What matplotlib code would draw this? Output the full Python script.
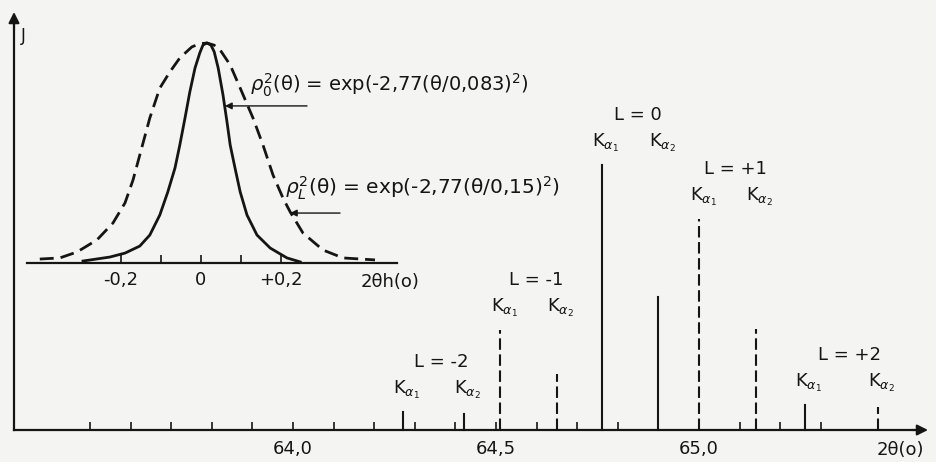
import numpy as np
import matplotlib.pyplot as plt

plt.rcParams['font.family'] = 'DejaVu Sans'
plt.rcParams['mathtext.fontset'] = 'dejavusans'

# reflections: 2theta (deg) and relative intensity (L=0 K_alpha1 = 100)
orders = ['-2', '-1', '0', '+1', '+2']
pos_a1 = [64.27, 64.51, 64.76, 65.00, 65.26]
pos_a2 = [64.42, 64.65, 64.90, 65.14, 65.44]
int_a1 = [6.8, 37.7, 100.0, 79.6, 9.4]
int_a2 = [6.0, 21.1, 50.2, 38.1, 8.7]
dash_a1 = [False, True, False, True, False]
dash_a2 = [False, True, False, True, True]

xt_major = [64.0, 64.5, 65.0]
xt_labels = ['64,0', '64,5', '65,0']
xt_minor = np.round(np.arange(63.5, 65.31, 0.1), 1)

# inset profiles, 2theta_h (deg) vs normalized intensity
p0_x = [-0.295, -0.228, -0.19, -0.153, -0.128, -0.103, -0.083, -0.065, -0.053, -0.04,
        -0.028, -0.015, -0.003, 0.005, 0.015, 0.025, 0.033, 0.043, 0.055, 0.065, 0.073,
        0.085, 0.098, 0.115, 0.14, 0.173, 0.215, 0.248]
p0_y = [0.009, 0.027, 0.045, 0.077, 0.127, 0.218, 0.323, 0.432, 0.536, 0.659,
        0.777, 0.886, 0.955, 0.991, 1.0, 0.99, 0.96, 0.886, 0.764, 0.641, 0.536,
        0.432, 0.323, 0.218, 0.127, 0.068, 0.023, 0.005]
pL_x = [-0.403, -0.353, -0.31, -0.26, -0.22, -0.19, -0.17, -0.153, -0.128, -0.103,
        -0.078, -0.053, -0.023, -0.005, 0.015, 0.033, 0.048, 0.073, 0.098, 0.13,
        0.155, 0.18, 0.205, 0.223, 0.255, 0.305, 0.355, 0.435]
pL_y = [0.018, 0.023, 0.05, 0.105, 0.182, 0.273, 0.377, 0.491, 0.659, 0.795,
        0.868, 0.932, 0.982, 0.996, 1.0, 0.99, 0.968, 0.9, 0.795, 0.659,
        0.536, 0.4, 0.295, 0.232, 0.136, 0.059, 0.023, 0.014]
in_major = [-0.2, 0.0, 0.2]
in_labels = ['-0,2', '0', '+0,2']
in_minor = [-0.1, 0.1]

ink = '#151515'
bg = '#f4f4f2'
fs = 13
k = 2.65  # px per intensity unit

fig = plt.figure(figsize=(9.36, 4.62), dpi=100, facecolor=bg)
ax = fig.add_axes([0, 0, 1, 1])
ax.patch.set_visible(False)
ax.set_xlim(63.2783, 65.5837)
ax.set_ylim(-32 / k, 430 / k)
x0, x1 = 63.3128, 65.564

dsh = (0, (5.5, 2.2))
for i in range(len(orders)):
    ax.plot([pos_a1[i]] * 2, [0, int_a1[i]], color=ink, lw=1.5,
            ls=dsh if dash_a1[i] else '-')
    ax.plot([pos_a2[i]] * 2, [0, int_a2[i]], color=ink, lw=1.5,
            ls=dsh if dash_a2[i] else '-')
    ty = max(int_a1[i], int_a2[i]) + 22 / k
    ax.text(pos_a1[i] + 0.01, ty, r'K$_{\alpha_1}$', fontsize=fs, ha='center', va='center', color=ink)
    ax.text(pos_a2[i] + 0.01, ty, r'K$_{\alpha_2}$', fontsize=fs, ha='center', va='center', color=ink)
    ax.text((pos_a1[i] + pos_a2[i]) / 2 + 0.02, ty + 28 / k, 'L = ' + orders[i],
            fontsize=fs, ha='center', va='center', color=ink)

for s in ['top', 'right']:
    ax.spines[s].set_visible(False)
ax.spines['left'].set_position(('data', x0))
ax.spines['left'].set_bounds(0, 405 / k)
ax.spines['bottom'].set_position(('data', 0))
ax.spines['bottom'].set_bounds(x0, x1 - 0.02)
for s in ['left', 'bottom']:
    ax.spines[s].set_linewidth(1.6)
    ax.spines[s].set_color(ink)
ax.annotate('', xy=(x1, 0), xytext=(x1 - 0.04, 0),
            arrowprops=dict(arrowstyle='-|>', color=ink, lw=1.5, mutation_scale=16, shrinkA=0, shrinkB=0))
ax.annotate('', xy=(x0, 418 / k), xytext=(x0, 400 / k),
            arrowprops=dict(arrowstyle='-|>', color=ink, lw=1.5, mutation_scale=16, shrinkA=0, shrinkB=0))
ax.set_yticks([])
ax.set_xticks(xt_major, xt_labels)
ax.set_xticks(xt_minor, minor=True)
ax.tick_params(axis='x', which='both', direction='in', length=6, width=1.2, color=ink,
               labelsize=fs, labelcolor=ink, pad=7)
ax.text(65.495, -20 / k, '2θ(o)', fontsize=fs, ha='center', va='center', color=ink)
ax.text(63.335, 394 / k, 'J', fontsize=12, ha='center', va='center', color=ink)

# inset: profiles
ins = fig.add_axes([20 / 936, (462 - 290) / 462, 400 / 936, 260 / 462])
ins.patch.set_visible(False)
ins.set_xlim(-0.4525, 0.5475)
ins.set_ylim(-27 / 220, 233 / 220)
ins.plot(p0_x, p0_y, color=ink, lw=2.0, solid_joinstyle='round')
ins.plot(pL_x, pL_y, color=ink, lw=2.0, ls=(0, (5, 2.5)))
for s in ['top', 'right', 'left']:
    ins.spines[s].set_visible(False)
ins.spines['bottom'].set_position(('data', 0))
ins.spines['bottom'].set_bounds(-0.435, 0.49)
ins.spines['bottom'].set_linewidth(1.6)
ins.spines['bottom'].set_color(ink)
ins.set_yticks([])
ins.set_xticks(in_major, in_labels)
ins.set_xticks(in_minor, minor=True)
ins.tick_params(axis='x', which='both', direction='in', length=6, width=1.2, color=ink,
                labelsize=fs, labelcolor=ink, pad=6)
ins.text(0.4725, -19 / 220, '2θh(o)', fontsize=fs, ha='center', va='center', color=ink)

ins.text(0.1225, 0.809, r'$\rho_0^2$(θ) = exp(-2,77(θ/0,083)$^2$)', fontsize=14,
         ha='left', va='center', color=ink)
ins.text(0.21, 0.341, r'$\rho_L^2$(θ) = exp(-2,77(θ/0,15)$^2$)', fontsize=14.5,
         ha='left', va='center', color=ink)
ins.annotate('', xy=(0.06, 0.714), xytext=(0.265, 0.714),
             arrowprops=dict(arrowstyle='-|>', color=ink, lw=1.0, mutation_scale=10, shrinkA=0, shrinkB=0))
ins.annotate('', xy=(0.2225, 0.227), xytext=(0.3475, 0.227),
             arrowprops=dict(arrowstyle='-|>', color=ink, lw=1.0, mutation_scale=10, shrinkA=0, shrinkB=0))

fig.savefig('out.png', dpi=100, facecolor=bg)
